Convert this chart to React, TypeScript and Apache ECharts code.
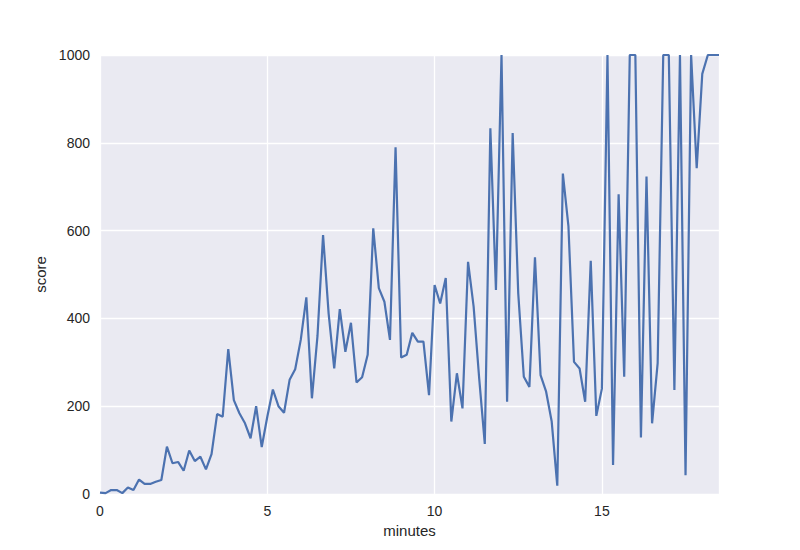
import React, { useEffect, useRef } from "react";
import * as echarts from "echarts";

// score sampled every 10 seconds (1/6 minute)
const SAMPLE_MINUTES = 1 / 6;
const scores: number[] = [
  3, 2, 9, 9, 2, 15, 9, 33, 23, 23,
  28, 32, 108, 70, 73, 53, 99, 75, 85, 56,
  91, 182, 176, 330, 214, 184, 161, 127, 200, 107,
  176, 238, 200, 185, 260, 284, 351, 448, 218, 360,
  590, 411, 286, 421, 324, 390, 254, 266, 317, 605,
  469, 438, 351, 790, 311, 317, 367, 347, 347, 225,
  476, 434, 492, 165, 275, 195, 529, 427, 263, 114,
  833, 465, 1000, 210, 822, 457, 267, 244, 539, 271,
  233, 165, 19, 730, 610, 301, 286, 210, 531, 178,
  240, 1000, 66, 683, 267, 1000, 1000, 129, 723, 161,
  298, 1000, 1000, 237, 1000, 43, 1000, 742, 957, 1000,
  1000, 1000,
];
const xTicks = [0, 5, 10, 15];
const yTicks = [0, 200, 400, 600, 800, 1000];
const xName = "minutes";
const yName = "score";

export default function App() {
  const ref = useRef<HTMLDivElement>(null);
  useEffect(() => {
    document.body.style.margin = "0";
    if (!ref.current) return;
    const chart = echarts.init(ref.current, null, { renderer: "svg" });
    const data = scores.map((v, i) => [i * SAMPLE_MINUTES, v]);
    const font = "'Liberation Sans', Arial, sans-serif";
    chart.setOption({
      animation: false,
      backgroundColor: "#ffffff",
      grid: {
        left: 100,
        right: 81,
        top: 55,
        bottom: 56,
        show: true,
        backgroundColor: "#EAEAF2",
        borderWidth: 0,
      },
      xAxis: {
        type: "value",
        min: xTicks[0],
        max: 18.5,
        interval: xTicks[1] - xTicks[0],
        name: xName,
        nameLocation: "middle",
        nameGap: 29,
        nameTextStyle: { fontFamily: font, fontSize: 15, color: "#262626" },
        axisLine: { show: false },
        axisTick: { show: false },
        axisLabel: {
          showMaxLabel: false,
          fontFamily: font,
          fontSize: 14,
          color: "#262626",
          margin: 10,
          formatter: (v: number) => String(v),
        },
        splitLine: { show: true, lineStyle: { color: "#ffffff", width: 1.3 } },
      },
      yAxis: {
        type: "value",
        min: yTicks[0],
        max: yTicks[yTicks.length - 1],
        interval: yTicks[1] - yTicks[0],
        name: yName,
        nameLocation: "middle",
        nameGap: 43,
        nameTextStyle: { fontFamily: font, fontSize: 15, color: "#262626" },
        axisLine: { show: false },
        axisTick: { show: false },
        axisLabel: {
          fontFamily: font,
          fontSize: 14,
          color: "#262626",
          margin: 10,
          formatter: (v: number) => String(v),
        },
        splitLine: { show: true, lineStyle: { color: "#ffffff", width: 1.3 } },
      },
      series: [
        {
          type: "line",
          data,
          showSymbol: false,
          symbol: "none",
          clip: true,
          lineStyle: { color: "#4C72B0", width: 2.2 },
        },
      ],
    });
    return () => chart.dispose();
  }, []);
  return <div ref={ref} style={{ width: 800, height: 550 }} />;
}
